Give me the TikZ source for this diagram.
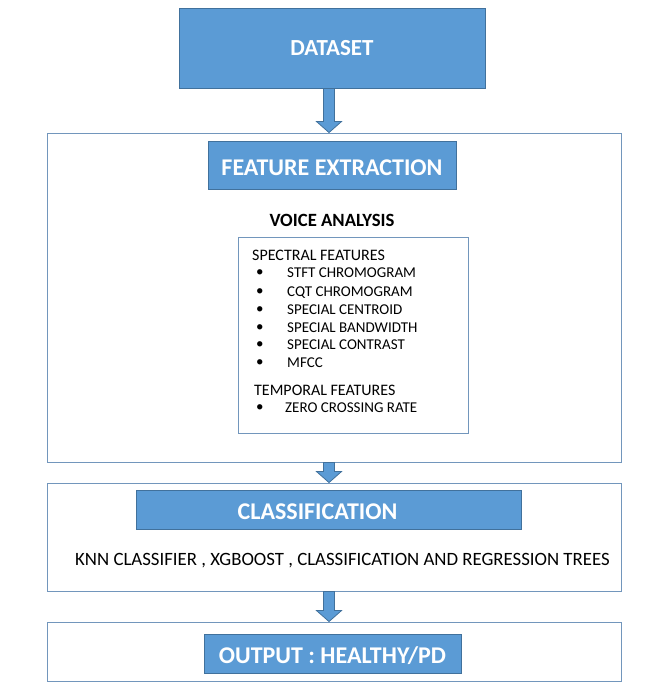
\documentclass[tikz,border=0pt]{standalone}
\usepackage{fontspec}
\setmainfont{Carlito}
\usetikzlibrary{calc}
\definecolor{blockfill}{HTML}{5B9BD5}
\definecolor{blockdraw}{HTML}{41719C}
\definecolor{framedraw}{HTML}{7296BC}
\newcommand\myblockarrow[2]{%
  \filldraw[fill=blockfill,draw=blockdraw,line width=0.8pt]
    ($(ax|-#1.south)+(-5.5,0)$) -- ($(ax|-#2.north)+(-5.5,-11)$) --
    ($(ax|-#2.north)+(-12.5,-11)$) -- (ax|-#2.north) --
    ($(ax|-#2.north)+(12.5,-11)$) -- ($(ax|-#2.north)+(5.5,-11)$) --
    ($(ax|-#1.south)+(5.5,0)$) -- cycle;}
\begin{document}
\begin{tikzpicture}[x=1pt,y=-1pt,
  frame/.style={draw=framedraw,line width=0.9pt,inner sep=0pt,fill=white},
  block/.style={draw=blockdraw,fill=blockfill,line width=0.9pt,inner sep=0pt,
    text=white,text depth=0pt},
  title/.style={font=\bfseries\fontsize{24}{26}\selectfont},
  plain/.style={inner sep=0pt,text depth=0pt,anchor=west},
  item/.style={plain,font=\fontsize{15}{17}\selectfont},
  head/.style={plain,font=\fontsize{16}{18}\selectfont}]
\useasboundingbox (0,0) rectangle (662,692);
\fill[white] (0,0) rectangle (662,692);
\coordinate (ax) at (329,0);
% frames
\node[frame,minimum width=574,minimum height=329] (box1) at (334,297.5) {};
\node[frame,minimum width=574,minimum height=108] (box2) at (334,537) {};
\node[frame,minimum width=574,minimum height=59] (box3) at (334,651.5) {};
\node[frame,minimum width=230,minimum height=196] (inner) at (353,335) {};
% blocks
\node[block,minimum width=306,minimum height=80,font=\bfseries\fontsize{23}{25}\selectfont] (dataset) at (332,48) {DATASET};
\node[block,title,minimum width=248,minimum height=48,text height=21pt] (feat) at (332,165) {FEATURE EXTRACTION};
\node[block,title,minimum width=385,minimum height=39,text width=385,align=center,text height=20pt] (cls) at (328.5,509.5) {\hspace*{-22pt}CLASSIFICATION};
\node[block,title,minimum width=257,minimum height=39,text height=20pt] (out) at (332.5,653.5) {OUTPUT : HEALTHY/PD};
% texts
\node[inner sep=0pt,text depth=0pt,font=\bfseries\fontsize{18.7}{20}\selectfont] (voice) at (332,220) {VOICE ANALYSIS};
\node[head] (spec) at (252,255) {SPECTRAL FEATURES};
\node[item] (b1) at (256,273) {•}; \node[item] (i1) at (287,273) {STFT CHROMOGRAM};
\node[item] (b2) at (256,292) {•}; \node[item] (i2) at (287,292) {CQT CHROMOGRAM};
\node[item] (b3) at (256,310) {•}; \node[item] (i3) at (287,310) {SPECIAL CENTROID};
\node[item] (b4) at (256,328) {•}; \node[item] (i4) at (287,328) {SPECIAL BANDWIDTH};
\node[item] (b5) at (256,345) {•}; \node[item] (i5) at (287,345) {SPECIAL CONTRAST};
\node[item] (b6) at (256,363) {•}; \node[item] (i6) at (287,363) {MFCC};
\node[head] (temp) at (254,390) {TEMPORAL FEATURES};
\node[item] (b7) at (256,408) {•}; \node[item] (i7) at (285,408) {ZERO CROSSING RATE};
\node[plain,font=\fontsize{18.8}{20}\selectfont] (knn) at (75,559) {KNN CLASSIFIER , XGBOOST , CLASSIFICATION AND REGRESSION TREES};
% arrows
\myblockarrow{dataset}{box1}
\myblockarrow{box1}{box2}
\myblockarrow{box2}{box3}
\end{tikzpicture}
\end{document}
